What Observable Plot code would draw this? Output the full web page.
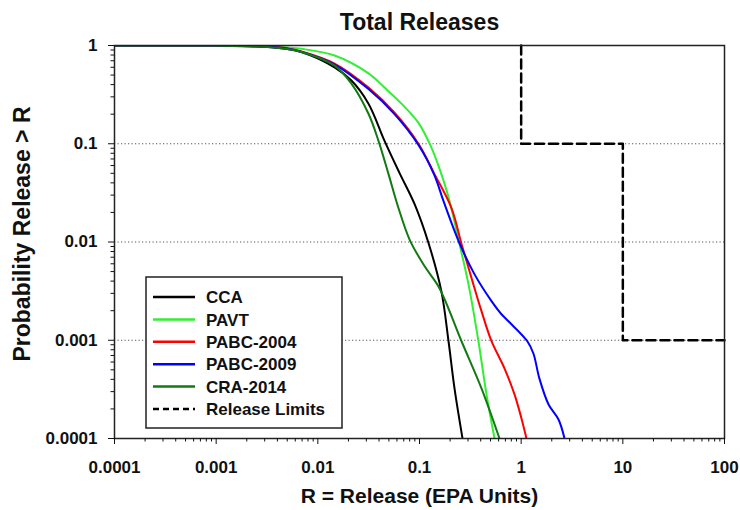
<!DOCTYPE html>
<html>
<head>
<meta charset="utf-8">
<script src="https://cdn.jsdelivr.net/npm/d3@7"></script>
<script src="https://cdn.jsdelivr.net/npm/@observablehq/plot@0.6"></script>
<style>
  body { margin: 0; background: #fff; }
  #chart { width: 740px; height: 510px; }
</style>
</head>
<body>
<div id="chart"></div>
<script>
// ---- data ----
const seriesNames = ["CCA", "PAVT", "PABC-2004", "PABC-2009", "CRA-2014"];
const seriesColors = ["#000000", "#33ee33", "#ff0000", "#0000ff", "#127a12"];

const ccaX = [0.0001, 0.001, 0.003, 0.005, 0.0069, 0.0146, 0.0214, 0.0315, 0.0453, 0.0635, 0.0893, 0.1226, 0.164, 0.193, 0.221, 0.265];
const ccaY = [1, 0.998, 0.97, 0.92, 0.86, 0.6, 0.44, 0.256, 0.107, 0.0506, 0.0244, 0.00977, 0.00316, 0.000977, 0.000324, 0.0001];

const pavtX = [0.0001, 0.001, 0.003, 0.005, 0.0069, 0.0146, 0.0315, 0.0453, 0.0665, 0.0977, 0.131, 0.157, 0.193, 0.247, 0.303, 0.380, 0.456, 0.547];
const pavtY = [1, 0.999, 0.98, 0.955, 0.925, 0.79, 0.52, 0.373, 0.256, 0.163, 0.0915, 0.0561, 0.0285, 0.0096, 0.00373, 0.000977, 0.000281, 0.0001];

const pabc04X = [0.0001, 0.001, 0.003, 0.005, 0.0069, 0.0146, 0.0315, 0.0568, 0.0977, 0.140, 0.206, 0.259, 0.325, 0.407, 0.511, 0.685, 0.860, 1.007, 1.128];
const pabc04Y = [1, 0.998, 0.975, 0.935, 0.87, 0.655, 0.373, 0.207, 0.1, 0.0494, 0.0222, 0.00955, 0.00429, 0.00198, 0.000977, 0.000518, 0.000281, 0.00016, 0.0001];

const pabc09X = [0.0001, 0.001, 0.003, 0.005, 0.0069, 0.0146, 0.0315, 0.0568, 0.0977, 0.140, 0.172, 0.247, 0.347, 0.511, 0.640, 0.750, 1.15, 1.32, 1.51, 1.86, 2.33, 2.67];
const pabc09Y = [1, 0.998, 0.975, 0.93, 0.86, 0.64, 0.36, 0.2, 0.097, 0.048, 0.0262, 0.00977, 0.00471, 0.0025, 0.00184, 0.00156, 0.000977, 0.000733, 0.000409, 0.000222, 0.000156, 0.0001];

const cra14X = [0.0001, 0.001, 0.003, 0.005, 0.0069, 0.0146, 0.0214, 0.0315, 0.0395, 0.0495, 0.0621, 0.0805, 0.112, 0.157, 0.259, 0.407, 0.612];
const cra14Y = [1, 0.998, 0.97, 0.92, 0.86, 0.625, 0.41, 0.202, 0.107, 0.0494, 0.0222, 0.0104, 0.00569, 0.00339, 0.000977, 0.000324, 0.0001];

const limitX = [1, 1, 10, 10, 100];
const limitY = [1, 0.1, 0.1, 0.001, 0.001];

const xTicks = [0.0001, 0.001, 0.01, 0.1, 1, 10, 100];
const xTickLabels = ["0.0001", "0.001", "0.01", "0.1", "1", "10", "100"];
const yTicks = [0.0001, 0.001, 0.01, 0.1, 1];
const yTickLabels = ["0.0001", "0.001", "0.01", "0.1", "1"];
const gridY = [0.1, 0.01, 0.001];

const titleText = "Total Releases";
const xLabelText = "R = Release (EPA Units)";
const yLabelText = "Probability Release > R";
const limitLabel = "Release Limits";

// ---- build tables ----
const seriesXs = [ccaX, pavtX, pabc04X, pabc09X, cra14X];
const seriesYs = [ccaY, pavtY, pabc04Y, pabc09Y, cra14Y];
const curves = [];
seriesNames.forEach((name, s) => {
  seriesXs[s].forEach((x, i) => curves.push({series: name, x, y: seriesYs[s][i]}));
});
const limits = limitX.map((x, i) => ({x, y: limitY[i]}));

function minorTicks(lo, hi) {
  const out = [];
  for (let e = Math.round(Math.log10(lo)); e < Math.round(Math.log10(hi)); e++)
    for (let k = 2; k <= 9; k++) out.push(k * Math.pow(10, e));
  return out;
}
const xMinor = minorTicks(0.0001, 100);
const yMinor = minorTicks(0.0001, 1);
const xFmt = new Map(xTicks.map((v, i) => [v, xTickLabels[i]]));
const yFmt = new Map(yTicks.map((v, i) => [v, yTickLabels[i]]));

const font = "'Liberation Sans', Arial, Helvetica, sans-serif";

const chart = Plot.plot({
  width: 740,
  height: 510,
  marginLeft: 114,
  marginRight: 16,
  marginTop: 45,
  marginBottom: 72,
  style: {fontFamily: font, fontWeight: "bold", fontSize: "17px", color: "#111", background: "#fff", overflow: "visible"},
  x: {type: "log", domain: [0.0001, 100]},
  y: {type: "log", domain: [0.0001, 1]},
  color: {domain: seriesNames, range: seriesColors},
  marks: [
    Plot.ruleY(gridY, {stroke: "#555", strokeWidth: 1, strokeDasharray: "1.2,2.3"}),
    Plot.line(limits, {x: "x", y: "y", stroke: "#000", strokeWidth: 2.5, strokeDasharray: "9,5"}),
    Plot.line(curves, {x: "x", y: "y", z: "series", stroke: "series", strokeWidth: 2, curve: "catmull-rom", clip: true}),
    Plot.frame({stroke: "#222", strokeWidth: 1.5}),
    Plot.axisX(xTicks, {label: null, tickSize: 6, tickPadding: 16, tickFormat: (d) => xFmt.get(d), fontSize: 17}),
    Plot.axisX(xMinor, {label: null, tickSize: 3.5, tickFormat: () => ""}),
    Plot.axisY(yTicks, {label: null, tickSize: 6, tickPadding: 11, tickFormat: (d) => yFmt.get(d), fontSize: 17}),
    Plot.axisY(yMinor, {label: null, tickSize: 3.5, tickFormat: () => ""}),
    Plot.text([titleText], {text: (d) => d, frameAnchor: "top", lineAnchor: "middle", textAnchor: "middle", dy: -23, fontSize: 23, fontWeight: "bold"}),
    Plot.text([xLabelText], {text: (d) => d, frameAnchor: "bottom", lineAnchor: "middle", textAnchor: "middle", dy: 58, fontSize: 21, fontWeight: "bold"}),
    Plot.text([yLabelText], {text: (d) => d, frameAnchor: "left", lineAnchor: "middle", textAnchor: "middle", dx: -92, dy: -8, rotate: -90, fontSize: 23, fontWeight: "bold"})
  ]
});

// ---- legend (inside the plot area, lower left) ----
const svg = d3.select(chart);
const lg = svg.append("g").attr("class", "legend");
lg.append("rect")
  .attr("x", 146).attr("y", 277).attr("width", 196).attr("height", 151)
  .attr("fill", "#fff").attr("stroke", "#222").attr("stroke-width", 1.5);
const entries = seriesNames.map((n, i) => ({name: n, color: seriesColors[i], dash: null}))
  .concat([{name: limitLabel, color: "#000", dash: "6,4"}]);
entries.forEach((e, i) => {
  const cy = 297 + i * 22.4;
  lg.append("line")
    .attr("x1", 153).attr("x2", 195).attr("y1", cy).attr("y2", cy)
    .attr("stroke", e.color).attr("stroke-width", 2.5)
    .attr("stroke-dasharray", e.dash);
  lg.append("text")
    .attr("x", 206).attr("y", cy).attr("dy", "0.36em")
    .attr("text-anchor", "start")
    .attr("font-size", 17).attr("font-weight", "bold").attr("fill", "#111")
    .text(e.name);
});

document.getElementById("chart").appendChild(chart);
</script>
</body>
</html>
